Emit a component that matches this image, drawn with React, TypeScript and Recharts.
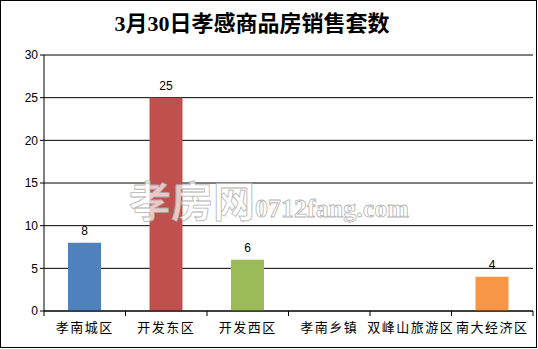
import { BarChart, Bar, XAxis, YAxis, CartesianGrid, Cell, LabelList } from "recharts";

// #region Sample data
const districts = ["孝南城区", "开发东区", "开发西区", "孝南乡镇", "双峰山旅游区", "南大经济区"];
const sales = [8, 25, 6, 0, 0, 4];
const barColors = ["#4F81BD", "#C0504D", "#9BBB59", "#4F81BD", "#4F81BD", "#F79646"];
const yTicks = [0, 5, 10, 15, 20, 25, 30];
// #endregion

const data = districts.map((name, i) => ({ name, value: sales[i] }));

const W = 538;
const H = 349;
const margin = { top: 55, right: 5, bottom: 8, left: 0 };
const yAxisWidth = 44;
const band = (W - margin.left - margin.right - yAxisWidth) / districts.length;

const CategoryTick = (props: any) => {
    const { x, y, payload, index } = props;
    const left = x - band / 2;
    return (
        <g>
            <line x1={left} y1={y - 8} x2={left} y2={y - 3} stroke="#000" />
            {index === districts.length - 1 && (
                <line x1={left + band} y1={y - 8} x2={left + band} y2={y - 3} stroke="#000" />
            )}
            <text
                x={x}
                y={y + 13}
                textAnchor="middle"
                fontSize={13}
                letterSpacing={1.5}
                fill="#000"
                fontFamily="'Noto Sans CJK SC', sans-serif"
            >
                {payload.value}
            </text>
        </g>
    );
};

const App = () => {
    return (
        <div
            style={{
                position: "absolute",
                left: 0,
                top: 0,
                width: W,
                height: H,
                background: "#fff",
            }}
        >
            <div
                style={{
                    position: "absolute",
                    left: 0,
                    top: 0,
                    width: W - 1,
                    height: H - 1,
                    border: "1px solid #000",
                    boxSizing: "border-box",
                }}
            />
            <div
                style={{
                    position: "absolute",
                    left: 0,
                    top: 9,
                    width: 504,
                    textAlign: "center",
                    fontFamily: "'Liberation Serif', 'Noto Sans CJK SC', serif",
                    fontWeight: "bold",
                    fontSize: 22,
                    lineHeight: "30px",
                }}
            >
                3月30日孝感商品房销售套数
            </div>
            <BarChart width={W} height={H} data={data} margin={margin}>
                <CartesianGrid vertical={false} stroke="#000" />
                <XAxis
                    dataKey="name"
                    axisLine={{ stroke: "#000" }}
                    tickLine={false}
                    interval={0}
                    height={30}
                    tick={<CategoryTick />}
                />
                <YAxis
                    width={yAxisWidth}
                    domain={[0, 30]}
                    ticks={yTicks}
                    axisLine={{ stroke: "#000" }}
                    tickLine={{ stroke: "#000" }}
                    tickSize={4}
                    tick={{ fill: "#000", fontSize: 12, fontFamily: "'Liberation Sans', Arial, sans-serif" }}
                />
                <Bar dataKey="value" barSize={33} isAnimationActive={false}>
                    {data.map((d, i) => (
                        <Cell key={d.name} fill={barColors[i]} />
                    ))}
                    <LabelList
                        dataKey="value"
                        position="top"
                        offset={8}
                        fill="#000"
                        fontSize={12}
                        fontFamily="'Liberation Sans', Arial, sans-serif"
                        formatter={(v: any) => (v ? v : "")}
                    />
                </Bar>
            </BarChart>
            <div
                style={{
                    position: "absolute",
                    left: 129,
                    top: 168,
                    whiteSpace: "nowrap",
                    color: "rgba(255,255,255,0.7)",
                    WebkitTextStroke: "0.8px rgba(170,170,170,0.9)",
                    pointerEvents: "none",
                }}
            >
                <span style={{ fontFamily: "'Noto Sans CJK SC', sans-serif", fontSize: 42, fontWeight: "bold" }}>孝房网</span>
                <span style={{ fontFamily: "'Liberation Serif', serif", fontSize: 26, fontWeight: "bold" }}>0712fang.com</span>
            </div>
        </div>
    );
};

export default App;
